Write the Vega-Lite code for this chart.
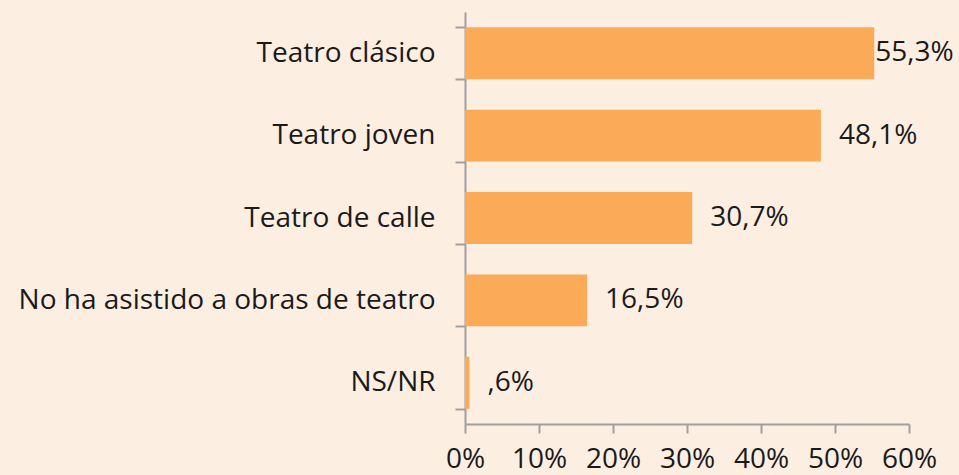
{
  "$schema": "https://vega.github.io/schema/vega-lite/v6.json",
  "autosize": "none",
  "width": 444,
  "height": 412,
  "padding": {"left": 465, "top": 12, "right": 50, "bottom": 51},
  "background": "#FDEEE2",
  "config": {
    "view": {"stroke": null},
    "font": "Open Sans"
  },
  "data": {
    "values": [
      {"category": "Teatro clásico", "value": 55.3, "label": "55,3%"},
      {"category": "Teatro joven", "value": 48.1, "label": "48,1%"},
      {"category": "Teatro de calle", "value": 30.7, "label": "30,7%"},
      {"category": "No ha asistido a obras de teatro", "value": 16.5, "label": "16,5%"},
      {"category": "NS/NR", "value": 0.6, "label": ",6%"}
    ]
  },
  "encoding": {
    "y": {
      "field": "category",
      "type": "nominal",
      "sort": null,
      "title": null,
      "scale": {"paddingInner": 0.37, "paddingOuter": 0.185},
      "axis": {
        "tickBand": "extent",
        "domainColor": "#A0A0A0",
        "domainWidth": 2,
        "tickColor": "#A0A0A0",
        "tickWidth": 2,
        "tickSize": 10,
        "labelPadding": 20,
        "labelFontSize": 28,
        "labelFontWeight": 400,
        "labelColor": "#1a1a1a",
        "labelFont": "Open Sans",
        "labelLimit": 0
      }
    },
    "x": {
      "field": "value",
      "type": "quantitative",
      "title": null,
      "scale": {"domain": [0, 60], "nice": false},
      "axis": {
        "values": [0, 10, 20, 30, 40, 50, 60],
        "labelExpr": "datum.value + '%'",
        "grid": false,
        "domainColor": "#A0A0A0",
        "domainWidth": 2,
        "tickColor": "#A0A0A0",
        "tickWidth": 2,
        "tickSize": 9,
        "labelPadding": 12,
        "labelFontSize": 28,
        "labelFontWeight": 400,
        "labelColor": "#1a1a1a",
        "labelFont": "Open Sans",
        "labelFlush": false,
        "labelOverlap": false
      }
    }
  },
  "layer": [
    {"mark": {"type": "bar", "color": "#FBAA58"}},
    {
      "transform": [{"filter": "datum.value > 50"}],
      "mark": {"type": "text", "align": "left", "baseline": "middle", "dx": 1, "fontSize": 28, "fontWeight": 400, "font": "Open Sans", "color": "#1a1a1a"},
      "encoding": {"text": {"field": "label"}}
    },
    {
      "transform": [{"filter": "datum.value <= 50"}],
      "mark": {"type": "text", "align": "left", "baseline": "middle", "dx": 18, "fontSize": 28, "fontWeight": 400, "font": "Open Sans", "color": "#1a1a1a"},
      "encoding": {"text": {"field": "label"}}
    }
  ]
}
